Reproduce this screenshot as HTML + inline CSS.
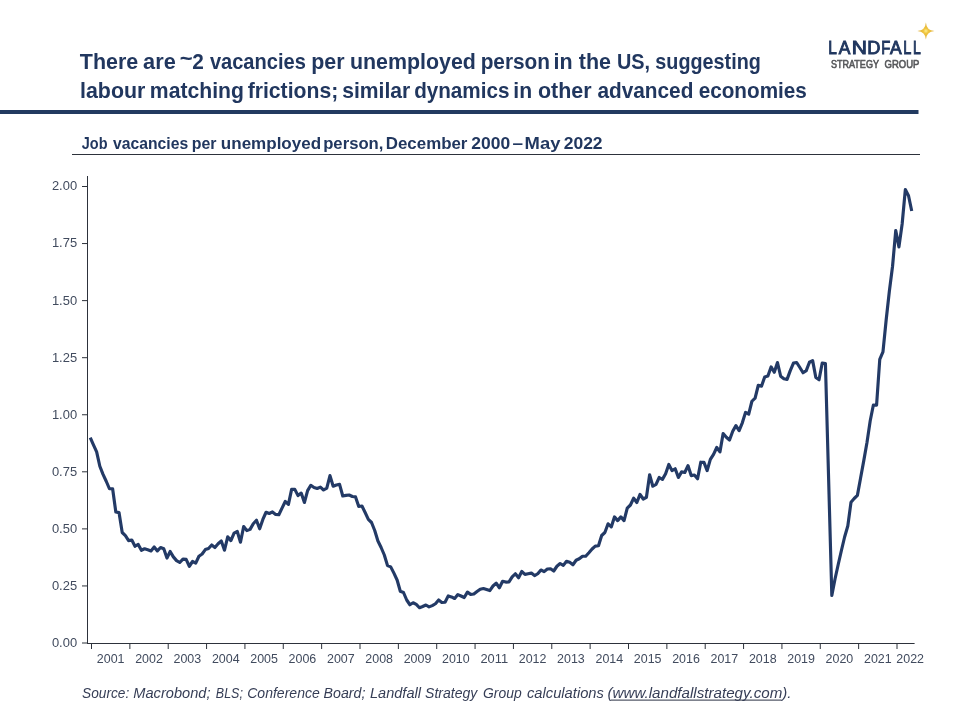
<!DOCTYPE html>
<html lang="en">
<head>
<meta charset="utf-8">
<title>Job vacancies per unemployed person</title>
<style>
html,body{margin:0;padding:0;background:#fff;}
body{width:960px;height:720px;overflow:hidden;font-family:"Liberation Sans",sans-serif;}
svg{display:block;}
</style>
</head>
<body>
<svg width="960" height="720" viewBox="0 0 960 720" font-family="'Liberation Sans', sans-serif">
<rect width="960" height="720" fill="#fff"/>
<g id="title">
<text y="68.8" font-size="21.5" font-weight="bold" font-style="normal" fill="#21375F"><tspan x="79.86" textLength="58.37" lengthAdjust="spacingAndGlyphs">There</tspan> <tspan x="143.12" textLength="32.63" lengthAdjust="spacingAndGlyphs">are</tspan> <tspan x="179.87" y="65.60" textLength="12.87" lengthAdjust="spacingAndGlyphs">~</tspan><tspan x="192.37" y="68.80" textLength="11.56" lengthAdjust="spacingAndGlyphs">2</tspan> <tspan x="209.92" y="68.80" textLength="95.90" lengthAdjust="spacingAndGlyphs">vacancies</tspan> <tspan x="311.19" y="68.80" textLength="33.34" lengthAdjust="spacingAndGlyphs">per</tspan> <tspan x="349.92" y="68.80" textLength="125.98" lengthAdjust="spacingAndGlyphs">unemployed</tspan> <tspan x="480.63" y="68.80" textLength="69.42" lengthAdjust="spacingAndGlyphs">person</tspan> <tspan x="553.50" y="68.80" textLength="19.08" lengthAdjust="spacingAndGlyphs">in</tspan> <tspan x="578.74" y="68.80" textLength="32.19" lengthAdjust="spacingAndGlyphs">the</tspan> <tspan x="617.01" y="68.80" textLength="33.12" lengthAdjust="spacingAndGlyphs">US,</tspan> <tspan x="655.31" y="68.80" textLength="105.51" lengthAdjust="spacingAndGlyphs">suggesting</tspan></text>
<text y="97.6" font-size="21.5" font-weight="bold" font-style="normal" fill="#21375F"><tspan x="80.00" textLength="65.31" lengthAdjust="spacingAndGlyphs">labour</tspan> <tspan x="149.85" textLength="94.06" lengthAdjust="spacingAndGlyphs">matching</tspan> <tspan x="247.64" textLength="90.62" lengthAdjust="spacingAndGlyphs">frictions;</tspan> <tspan x="342.26" textLength="68.06" lengthAdjust="spacingAndGlyphs">similar</tspan> <tspan x="414.15" textLength="95.30" lengthAdjust="spacingAndGlyphs">dynamics</tspan> <tspan x="513.32" textLength="18.78" lengthAdjust="spacingAndGlyphs">in</tspan> <tspan x="537.91" textLength="53.66" lengthAdjust="spacingAndGlyphs">other</tspan> <tspan x="597.40" textLength="95.98" lengthAdjust="spacingAndGlyphs">advanced</tspan> <tspan x="698.69" textLength="108.16" lengthAdjust="spacingAndGlyphs">economies</tspan></text>
<rect x="0" y="110" width="918.5" height="4" fill="#223A60"/>
</g>
<g id="subtitle">
<text y="148.5" font-size="17.3" font-weight="bold" font-style="normal" fill="#21375F"><tspan x="81.78" textLength="25.71" lengthAdjust="spacingAndGlyphs">Job</tspan> <tspan x="113.04" textLength="75.10" lengthAdjust="spacingAndGlyphs">vacancies</tspan> <tspan x="191.75" textLength="24.74" lengthAdjust="spacingAndGlyphs">per</tspan> <tspan x="220.84" textLength="100.27" lengthAdjust="spacingAndGlyphs">unemployed</tspan> <tspan x="323.20" textLength="60.21" lengthAdjust="spacingAndGlyphs">person,</tspan> <tspan x="385.77" textLength="81.68" lengthAdjust="spacingAndGlyphs">December</tspan> <tspan x="471.29" textLength="38.84" lengthAdjust="spacingAndGlyphs">2000</tspan> <tspan x="512.53" textLength="10.56" lengthAdjust="spacingAndGlyphs">–</tspan> <tspan x="524.57" textLength="35.83" lengthAdjust="spacingAndGlyphs">May</tspan> <tspan x="563.69" textLength="38.92" lengthAdjust="spacingAndGlyphs">2022</tspan></text>
<rect x="72" y="154" width="848" height="1" fill="#2D323B"/>
</g>
<g id="logo">
<text y="53.7" font-size="19.1" font-weight="normal" font-style="normal" fill="#21375F" stroke="#21375F" stroke-width="0.95"><tspan x="828.19" textLength="8.58" lengthAdjust="spacingAndGlyphs">L</tspan><tspan x="838.77" textLength="11.62" lengthAdjust="spacingAndGlyphs">A</tspan><tspan x="851.72" textLength="15.24" lengthAdjust="spacingAndGlyphs">N</tspan><tspan x="867.35" textLength="13.17" lengthAdjust="spacingAndGlyphs">D</tspan><tspan x="881.23" textLength="9.06" lengthAdjust="spacingAndGlyphs">F</tspan><tspan x="890.02" textLength="11.67" lengthAdjust="spacingAndGlyphs">A</tspan><tspan x="903.26" textLength="8.07" lengthAdjust="spacingAndGlyphs">L</tspan><tspan x="913.01" textLength="7.76" lengthAdjust="spacingAndGlyphs">L</tspan></text>
<text y="67.75" font-size="10.8" font-weight="normal" font-style="normal" fill="#555659" stroke="#555659" stroke-width="0.6"><tspan x="830.89" textLength="47.92" lengthAdjust="spacingAndGlyphs">STRATEGY</tspan> <tspan x="884.52" textLength="34.88" lengthAdjust="spacingAndGlyphs">GROUP</tspan></text>
<defs><radialGradient id="sg" cx="50%" cy="50%" r="50%"><stop offset="0" stop-color="#FFF08A"/><stop offset="0.3" stop-color="#EFC440"/><stop offset="1" stop-color="#DDAA2C"/></radialGradient></defs>
<path d="M925.9,22.4 Q926.5,30.299999999999997 934.4,30.9 Q926.5,31.5 925.9,39.4 Q925.3,31.5 917.4,30.9 Q925.3,30.299999999999997 925.9,22.4Z" fill="url(#sg)"/>
</g>
<g id="chart">
<g stroke="#2D323B" stroke-width="1" fill="none">
<path d="M87.5,176 V644.0 M87.0,643.5 H914.6"/>
<path d="M82,643.00 H87.0"/>
<path d="M82,585.94 H87.0"/>
<path d="M82,528.88 H87.0"/>
<path d="M82,471.81 H87.0"/>
<path d="M82,414.75 H87.0"/>
<path d="M82,357.69 H87.0"/>
<path d="M82,300.62 H87.0"/>
<path d="M82,243.56 H87.0"/>
<path d="M82,186.50 H87.0"/>
<path d="M91.50,643.5 V649"/>
<path d="M129.86,643.5 V649"/>
<path d="M168.21,643.5 V649"/>
<path d="M206.57,643.5 V649"/>
<path d="M244.93,643.5 V649"/>
<path d="M283.28,643.5 V649"/>
<path d="M321.64,643.5 V649"/>
<path d="M360.00,643.5 V649"/>
<path d="M398.36,643.5 V649"/>
<path d="M436.71,643.5 V649"/>
<path d="M475.07,643.5 V649"/>
<path d="M513.43,643.5 V649"/>
<path d="M551.78,643.5 V649"/>
<path d="M590.14,643.5 V649"/>
<path d="M628.50,643.5 V649"/>
<path d="M666.86,643.5 V649"/>
<path d="M705.21,643.5 V649"/>
<path d="M743.57,643.5 V649"/>
<path d="M781.93,643.5 V649"/>
<path d="M820.28,643.5 V649"/>
<path d="M858.64,643.5 V649"/>
<path d="M897.00,643.5 V649"/>
</g>
<g font-size="12.2" fill="#414B5E">
<text x="51.9" y="646.90" textLength="25.2" lengthAdjust="spacingAndGlyphs">0.00</text>
<text x="51.9" y="589.84" textLength="25.2" lengthAdjust="spacingAndGlyphs">0.25</text>
<text x="51.9" y="532.77" textLength="25.2" lengthAdjust="spacingAndGlyphs">0.50</text>
<text x="51.9" y="475.71" textLength="25.2" lengthAdjust="spacingAndGlyphs">0.75</text>
<text x="51.9" y="418.65" textLength="25.2" lengthAdjust="spacingAndGlyphs">1.00</text>
<text x="51.9" y="361.59" textLength="25.2" lengthAdjust="spacingAndGlyphs">1.25</text>
<text x="51.9" y="304.52" textLength="25.2" lengthAdjust="spacingAndGlyphs">1.50</text>
<text x="51.9" y="247.46" textLength="25.2" lengthAdjust="spacingAndGlyphs">1.75</text>
<text x="51.9" y="190.40" textLength="25.2" lengthAdjust="spacingAndGlyphs">2.00</text>
<text x="96.83" y="662.9" textLength="27.7" lengthAdjust="spacingAndGlyphs">2001</text>
<text x="135.19" y="662.9" textLength="27.7" lengthAdjust="spacingAndGlyphs">2002</text>
<text x="173.54" y="662.9" textLength="27.7" lengthAdjust="spacingAndGlyphs">2003</text>
<text x="211.90" y="662.9" textLength="27.7" lengthAdjust="spacingAndGlyphs">2004</text>
<text x="250.26" y="662.9" textLength="27.7" lengthAdjust="spacingAndGlyphs">2005</text>
<text x="288.61" y="662.9" textLength="27.7" lengthAdjust="spacingAndGlyphs">2006</text>
<text x="326.97" y="662.9" textLength="27.7" lengthAdjust="spacingAndGlyphs">2007</text>
<text x="365.33" y="662.9" textLength="27.7" lengthAdjust="spacingAndGlyphs">2008</text>
<text x="403.68" y="662.9" textLength="27.7" lengthAdjust="spacingAndGlyphs">2009</text>
<text x="442.04" y="662.9" textLength="27.7" lengthAdjust="spacingAndGlyphs">2010</text>
<text x="480.40" y="662.9" textLength="27.7" lengthAdjust="spacingAndGlyphs">2011</text>
<text x="518.76" y="662.9" textLength="27.7" lengthAdjust="spacingAndGlyphs">2012</text>
<text x="557.11" y="662.9" textLength="27.7" lengthAdjust="spacingAndGlyphs">2013</text>
<text x="595.47" y="662.9" textLength="27.7" lengthAdjust="spacingAndGlyphs">2014</text>
<text x="633.83" y="662.9" textLength="27.7" lengthAdjust="spacingAndGlyphs">2015</text>
<text x="672.18" y="662.9" textLength="27.7" lengthAdjust="spacingAndGlyphs">2016</text>
<text x="710.54" y="662.9" textLength="27.7" lengthAdjust="spacingAndGlyphs">2017</text>
<text x="748.90" y="662.9" textLength="27.7" lengthAdjust="spacingAndGlyphs">2018</text>
<text x="787.25" y="662.9" textLength="27.7" lengthAdjust="spacingAndGlyphs">2019</text>
<text x="825.61" y="662.9" textLength="27.7" lengthAdjust="spacingAndGlyphs">2020</text>
<text x="863.97" y="662.9" textLength="27.7" lengthAdjust="spacingAndGlyphs">2021</text>
<text x="896.35" y="662.9" textLength="27.7" lengthAdjust="spacingAndGlyphs">2022</text>
</g>
<polyline points="90.25,437.60 93.45,444.80 96.64,451.90 99.84,466.25 103.04,474.40 106.23,481.25 109.43,488.75 112.62,488.75 115.82,512.00 119.02,512.60 122.21,532.50 125.41,535.60 128.61,540.60 131.80,540.00 135.00,546.25 138.20,544.40 141.39,550.25 144.59,548.75 147.79,549.75 150.98,550.90 154.18,546.90 157.37,550.90 160.57,547.50 163.77,548.75 166.96,558.10 170.16,551.50 173.36,556.90 176.55,560.60 179.75,562.50 182.95,559.10 186.14,559.40 189.34,566.25 192.54,561.50 195.73,563.10 198.93,556.25 202.12,554.00 205.32,549.60 208.52,548.50 211.71,545.00 214.91,547.50 218.11,543.75 221.30,541.00 224.50,550.25 227.70,536.90 230.89,540.60 234.09,533.10 237.29,531.50 240.48,542.25 243.68,526.50 246.87,530.60 250.07,529.40 253.27,523.75 256.46,520.25 259.66,528.75 262.86,519.40 266.05,512.25 269.25,513.50 272.45,511.90 275.64,514.40 278.84,514.75 282.03,508.10 285.23,501.50 288.43,504.40 291.62,489.40 294.82,489.40 298.02,495.60 301.21,493.10 304.41,502.50 307.61,490.60 310.80,485.30 314.00,487.50 317.20,488.50 320.39,487.10 323.59,490.00 326.78,488.10 329.98,475.60 333.18,486.25 336.37,485.00 339.57,484.40 342.77,496.00 345.96,495.40 349.16,495.00 352.36,496.50 355.55,496.90 358.75,506.50 361.95,506.00 365.14,512.50 368.34,519.40 371.53,522.50 374.73,530.50 377.93,541.00 381.12,547.50 384.32,555.00 387.52,565.60 390.71,566.90 393.91,573.10 397.11,580.00 400.30,591.25 403.50,592.50 406.70,600.00 409.89,604.75 413.09,602.75 416.28,604.40 419.48,607.75 422.68,606.50 425.87,605.00 429.07,606.90 432.27,605.60 435.46,603.75 438.66,600.00 441.86,602.50 445.05,602.25 448.25,595.90 451.45,596.90 454.64,598.50 457.84,594.60 461.03,596.00 464.23,597.50 467.43,592.10 470.62,594.40 473.82,594.00 477.02,591.50 480.21,589.20 483.41,588.50 486.61,589.50 489.80,590.60 493.00,586.00 496.19,583.10 499.39,587.75 502.59,581.25 505.78,582.10 508.98,581.90 512.18,576.90 515.37,573.75 518.57,577.75 521.77,571.50 524.96,574.40 528.16,573.75 531.36,573.10 534.55,575.60 537.75,573.75 540.94,570.00 544.14,571.60 547.34,569.00 550.53,568.75 553.73,571.00 556.93,566.25 560.12,563.50 563.32,565.40 566.52,561.25 569.71,562.25 572.91,564.75 576.11,560.25 579.30,558.75 582.50,556.25 585.69,556.25 588.89,552.75 592.09,549.00 595.28,546.10 598.48,545.80 601.68,535.50 604.87,532.50 608.07,523.75 611.27,526.90 614.46,516.90 617.66,520.60 620.86,516.90 624.05,520.60 627.25,508.10 630.44,505.00 633.64,498.10 636.84,502.50 640.03,494.40 643.23,499.00 646.43,497.25 649.62,474.75 652.82,486.25 656.02,484.40 659.21,477.50 662.41,479.40 665.61,473.75 668.80,464.40 672.00,470.60 675.19,468.75 678.39,477.50 681.59,471.90 684.78,472.50 687.98,465.60 691.18,475.60 694.37,475.00 697.57,478.75 700.77,462.20 703.96,462.40 707.16,470.60 710.35,459.40 713.55,454.40 716.75,447.50 719.94,451.90 723.14,433.50 726.34,437.25 729.53,440.00 732.73,431.25 735.93,425.60 739.12,430.60 742.32,422.80 745.52,412.40 748.71,414.20 751.91,401.25 755.10,398.10 758.30,385.25 761.50,386.25 764.69,376.90 767.89,376.00 771.09,366.90 774.28,372.25 777.48,362.50 780.68,376.25 783.87,378.75 787.07,379.40 790.27,370.60 793.46,363.10 796.66,362.50 799.85,367.50 803.05,372.75 806.25,370.60 809.44,362.25 812.64,360.60 815.84,377.50 819.03,379.75 822.23,363.00 825.43,363.60 828.62,479.00 831.82,595.50 835.02,579.00 838.21,564.50 841.41,550.50 844.60,537.00 847.80,526.00 851.00,502.20 854.19,498.50 857.39,495.40 860.59,478.00 863.78,460.60 866.98,442.50 870.18,421.00 873.37,405.00 876.57,405.25 879.76,359.40 882.96,351.90 886.16,320.00 889.35,291.25 892.55,266.25 895.75,230.50 898.94,246.90 902.14,224.00 905.34,189.60 908.53,195.70 911.73,211.00" fill="none" stroke="#233A66" stroke-width="3.15" stroke-linejoin="round" stroke-linecap="butt"/>
</g>
<g id="source">
<rect x="610.9" y="699.6" width="170.8" height="1" fill="#2C3244"/>
<text y="697.5" font-size="14.2" font-weight="normal" font-style="italic" fill="#363E56"><tspan x="82.12" textLength="47.19" lengthAdjust="spacingAndGlyphs">Source:</tspan> <tspan x="133.30" textLength="77.20" lengthAdjust="spacingAndGlyphs">Macrobond;</tspan> <tspan x="215.86" textLength="27.06" lengthAdjust="spacingAndGlyphs">BLS;</tspan> <tspan x="247.23" textLength="72.59" lengthAdjust="spacingAndGlyphs">Conference</tspan> <tspan x="323.56" textLength="41.83" lengthAdjust="spacingAndGlyphs">Board;</tspan> <tspan x="370.05" textLength="50.87" lengthAdjust="spacingAndGlyphs">Landfall</tspan> <tspan x="425.11" textLength="52.19" lengthAdjust="spacingAndGlyphs">Strategy</tspan> <tspan x="483.07" textLength="38.63" lengthAdjust="spacingAndGlyphs">Group</tspan> <tspan x="527.01" textLength="76.90" lengthAdjust="spacingAndGlyphs">calculations</tspan> <tspan x="607.49" textLength="184.07" lengthAdjust="spacingAndGlyphs">(www.landfallstrategy.com).</tspan></text>
</g>
</svg>
</body>
</html>
